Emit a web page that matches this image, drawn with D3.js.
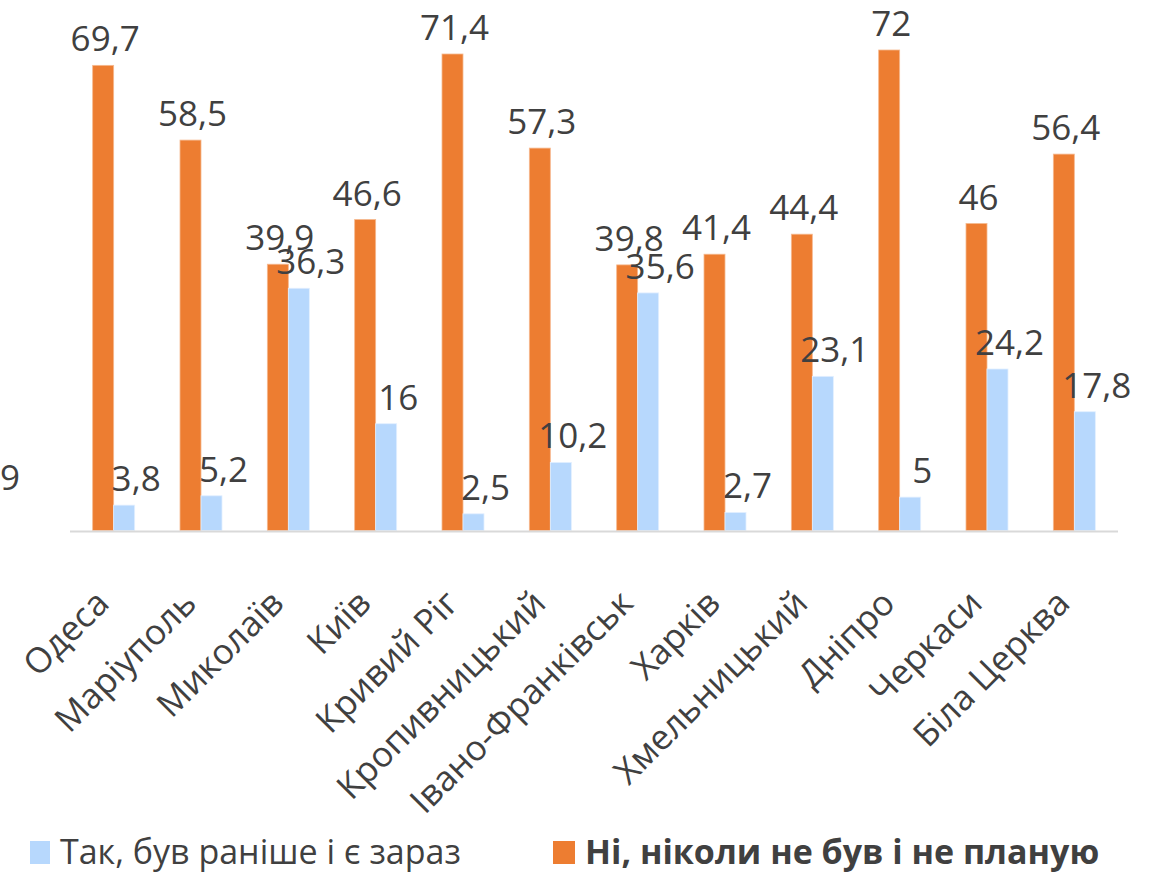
<!DOCTYPE html>
<html>
<head>
<meta charset="utf-8">
<script src="https://cdn.jsdelivr.net/npm/d3@7"></script>
<style>
  body { margin: 0; background: #fff; }
  text { font-family: "Open Sans", sans-serif; fill: #404040; }
</style>
</head>
<body>
<div id="chart"></div>
<script>
"use strict";

var cities = ["Одеса", "Маріуполь", "Миколаїв", "Київ", "Кривий Ріг", "Кропивницький",
	"Івано-Франківськ", "Харків", "Хмельницький", "Дніпро", "Черкаси", "Біла Церква"];

var yesValues = [3.8, 5.2, 36.3, 16, 2.5, 10.2, 35.6, 2.7, 23.1, 5, 24.2, 17.8];
var noValues = [69.7, 58.5, 39.9, 46.6, 71.4, 57.3, 39.8, 41.4, 44.4, 72, 46, 56.4];

var seriesNames = ["Так, був раніше і є зараз", "Ні, ніколи не був і не планую"];

// label of a previous category, cut off by the left edge of the picture
var cutLabel = { text: "9", value: 3.9 };

const width = 1150, height = 875;
const colNo = "#ED7D31", colYes = "#B7D8FD";

const svg = d3.select("#chart").append("svg")
	.attr("width", width)
	.attr("height", height);

const x = d3.scaleBand()
	.domain(cities)
	.range([70, 1118])
	.paddingInner(0.52)
	.paddingOuter(0.26);

const y = d3.scaleLinear()
	.domain([0, 72])
	.range([530.5, 50]);

const fmt = v => String(v).replace(".", ",");

const barW = 21;

let rows = cities.map((c, i) => ({ city: c, yes: yesValues[i], no: noValues[i] }));

let groups = svg.selectAll("g.city")
	.data(rows)
	.enter()
	.append("g")
	.attr("class", "city")
	.attr("transform", d => `translate(${x(d.city) + x.bandwidth() / 2},0)`);

// orange bars (left)
groups.append("rect")
	.attr("x", -barW)
	.attr("width", barW)
	.attr("y", d => y(d.no))
	.attr("height", d => y(0) - y(d.no))
	.attr("fill", colNo)
	.attr("stroke", "#f6b98f")
	.attr("stroke-width", 0.8);

// blue bars (right)
groups.append("rect")
	.attr("x", 0)
	.attr("width", barW)
	.attr("y", d => y(d.yes))
	.attr("height", d => y(0) - y(d.yes))
	.attr("fill", colYes)
	.attr("stroke", "#e2efff")
	.attr("stroke-width", 0.8);

// axis line
svg.append("line")
	.attr("x1", x.range()[0])
	.attr("x2", x.range()[1])
	.attr("y1", y(0) + 1)
	.attr("y2", y(0) + 1)
	.attr("stroke", "#d9d9d9")
	.attr("stroke-width", 2);

// value labels
groups.append("text")
	.attr("x", -barW / 2 + 2)
	.attr("y", d => y(d.no) - 14)
	.attr("text-anchor", "middle")
	.style("font-size", "35px")
	.text(d => fmt(d.no));

groups.append("text")
	.attr("x", barW / 2 + 12)
	.attr("y", d => y(d.yes) - 14)
	.attr("text-anchor", "middle")
	.style("font-size", "35px")
	.text(d => fmt(d.yes));

svg.append("text")
	.attr("x", 0)
	.attr("y", y(cutLabel.value) - 14)
	.style("font-size", "35px")
	.text(cutLabel.text);

// category labels, rotated
groups.append("text")
	.attr("transform", "translate(-20,588) rotate(-45)")
	.attr("text-anchor", "end")
	.attr("dy", "0.7em")
	.style("font-size", "35px")
	.text(d => d.city);

// legend
let legend = svg.append("g").attr("transform", "translate(0,852)");
legend.append("rect").attr("x", 30).attr("y", -11).attr("width", 20).attr("height", 23).attr("fill", colYes);
legend.append("text").attr("x", 60).attr("y", 0).attr("dy", "0.35em")
	.style("font-size", "34px")
	.text(seriesNames[0]);
legend.append("rect").attr("x", 553).attr("y", -11).attr("width", 22).attr("height", 23).attr("fill", colNo);
legend.append("text").attr("x", 585).attr("y", 0).attr("dy", "0.35em")
	.style("font-size", "34px")
	.style("font-weight", "bold")
	.text(seriesNames[1]);
</script>
</body>
</html>
